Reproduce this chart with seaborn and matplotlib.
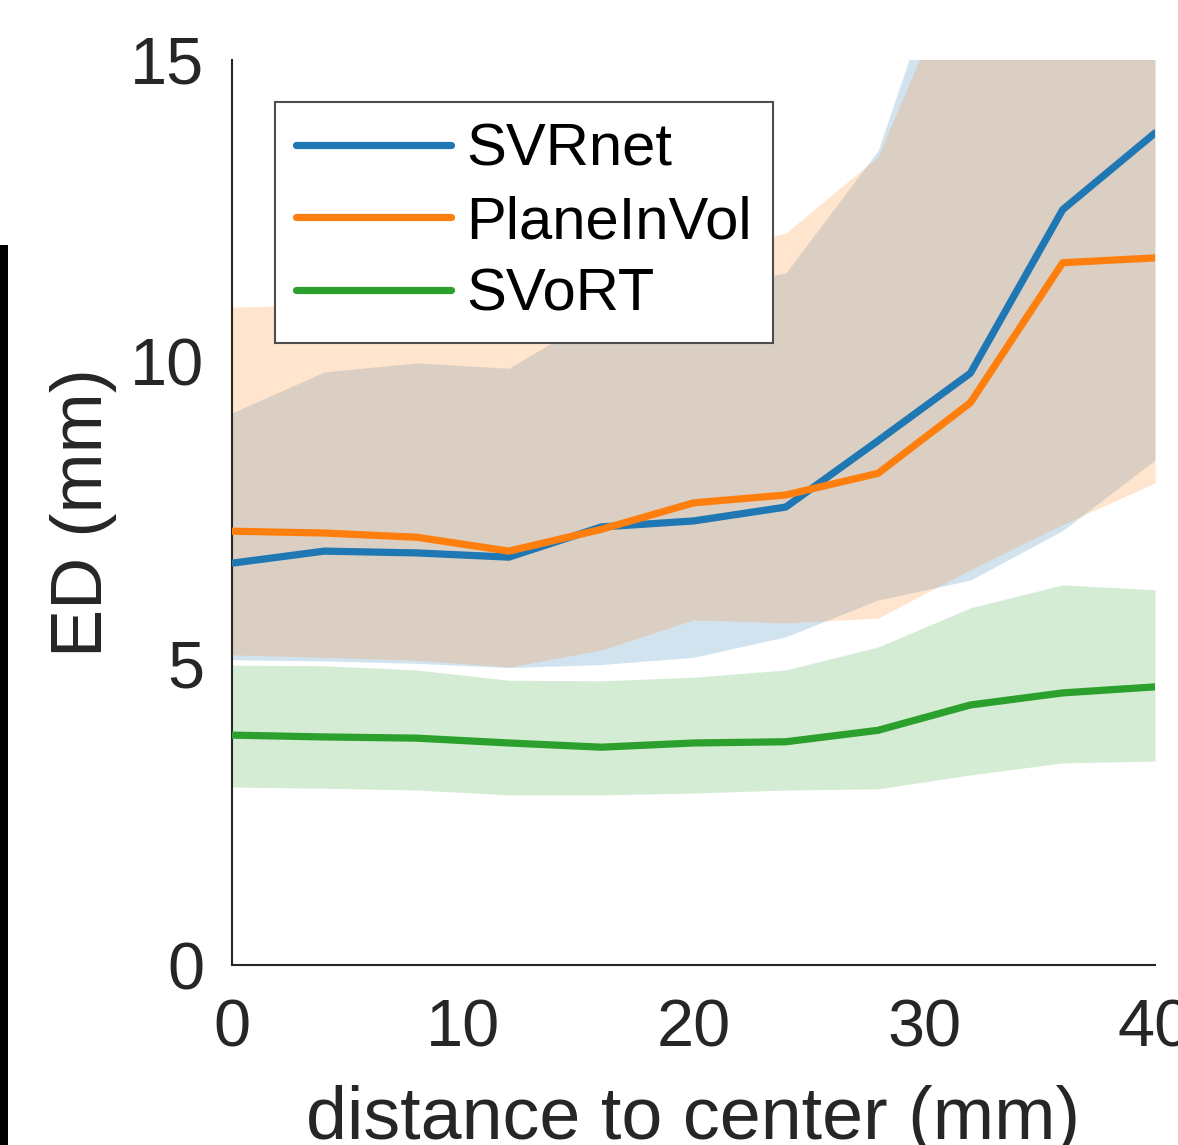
import numpy as np
import pandas as pd
import matplotlib
matplotlib.use("Agg")
import matplotlib.pyplot as plt
import seaborn as sns
from matplotlib.patches import Rectangle

# ---- data ----
dist = [0, 4, 8, 12, 16, 20, 24, 28, 32, 36, 40]

svrnet_mean = [6.66, 6.86, 6.83, 6.76, 7.26, 7.36, 7.59, 8.69, 9.81, 12.52, 13.79]
svrnet_lo = [5.06, 5.04, 5.00, 4.93, 4.98, 5.10, 5.44, 6.05, 6.38, 7.20, 8.37]
svrnet_hi = [9.15, 9.83, 9.98, 9.89, 10.80, 11.20, 11.47, 13.50, 18.00, 19.00, 20.00]

planeinvol_mean = [7.19, 7.16, 7.09, 6.86, 7.22, 7.66, 7.79, 8.15, 9.32, 11.64, 11.72]
planeinvol_lo = [5.14, 5.10, 5.05, 4.94, 5.22, 5.72, 5.67, 5.75, 6.55, 7.30, 7.99]
planeinvol_hi = [10.90, 10.95, 10.95, 11.00, 11.30, 11.80, 12.13, 13.40, 17.00, 18.00, 19.00]

svort_mean = [3.81, 3.78, 3.76, 3.68, 3.61, 3.68, 3.70, 3.89, 4.31, 4.51, 4.61]
svort_lo = [2.95, 2.93, 2.90, 2.82, 2.82, 2.85, 2.90, 2.92, 3.15, 3.35, 3.38]
svort_hi = [4.97, 4.96, 4.89, 4.72, 4.71, 4.77, 4.89, 5.27, 5.92, 6.30, 6.22]

methods = ["SVRnet", "PlaneInVol", "SVoRT"]
colors = ["#1f77b4", "#ff7f0e", "#2ca02c"]
xticks = [0, 10, 20, 30, 40]
yticks = [0, 5, 10, 15]

df = pd.DataFrame({
    "distance": dist * 3,
    "ED": svrnet_mean + planeinvol_mean + svort_mean,
    "method": [m for m in methods for _ in dist],
})

sns.set_style("white")
plt.rcParams["font.family"] = ["Liberation Sans", "DejaVu Sans"]

fig = plt.figure(figsize=(11.78, 11.45), dpi=100)
ax = fig.add_axes([232 / 1178, 1 - 965 / 1145, 923 / 1178, 905 / 1145])

bands = [(svrnet_lo, svrnet_hi), (planeinvol_lo, planeinvol_hi), (svort_lo, svort_hi)]
for (lo, hi), c in zip(bands, colors):
    ax.fill_between(dist, lo, hi, color=c, alpha=0.2, linewidth=0, zorder=1)

sns.lineplot(data=df, x="distance", y="ED", hue="method", hue_order=methods,
             palette=colors, linewidth=5.2, ax=ax, zorder=3, errorbar=None)

ax.set_xlim(0, 40)
ax.set_ylim(0, 15)
ax.set_xticks(xticks)
ax.set_yticks(yticks)
ax.set_xticklabels([str(v) for v in xticks])
ax.set_yticklabels([str(v) for v in yticks])

for side in ["top", "right"]:
    ax.spines[side].set_visible(False)
for side in ["left", "bottom"]:
    ax.spines[side].set_color("#262626")
    ax.spines[side].set_linewidth(1.5)

ax.tick_params(axis="both", direction="in", length=7, width=1.5, color="#262626",
               labelsize=48, labelcolor="#262626")
ax.tick_params(axis="x", pad=24)
ax.tick_params(axis="y", pad=20)

ax.set_xlabel("distance to center (mm)", fontsize=53, color="#262626")
ax.set_ylabel("ED (mm)", fontsize=52, color="#262626")
ax.xaxis.set_label_coords(0.5, -0.133)
ax.yaxis.set_label_coords(-0.125, 0.5)

leg = ax.legend(loc="upper left", bbox_to_anchor=(0.0466, 0.9536), borderaxespad=0,
                fontsize=43, frameon=True, fancybox=False, handlelength=2.6,
                handletextpad=0.25, labelspacing=0.29, borderpad=0.35)
leg.get_frame().set_edgecolor("#4d4d4d")
leg.get_frame().set_linewidth(1.5)
leg.get_frame().set_alpha(1)
leg.set_zorder(5)
for line in leg.get_lines():
    line.set_linewidth(5.2)
for t in leg.get_texts():
    t.set_color("black")

# black vertical bar at the far left edge (cropped neighbouring panel)
fig.patches.append(Rectangle((0, 0), 8 / 1178, (1145 - 245) / 1145,
                             transform=fig.transFigure, facecolor="black",
                             edgecolor="none"))

fig.savefig("out.png", dpi=100)
